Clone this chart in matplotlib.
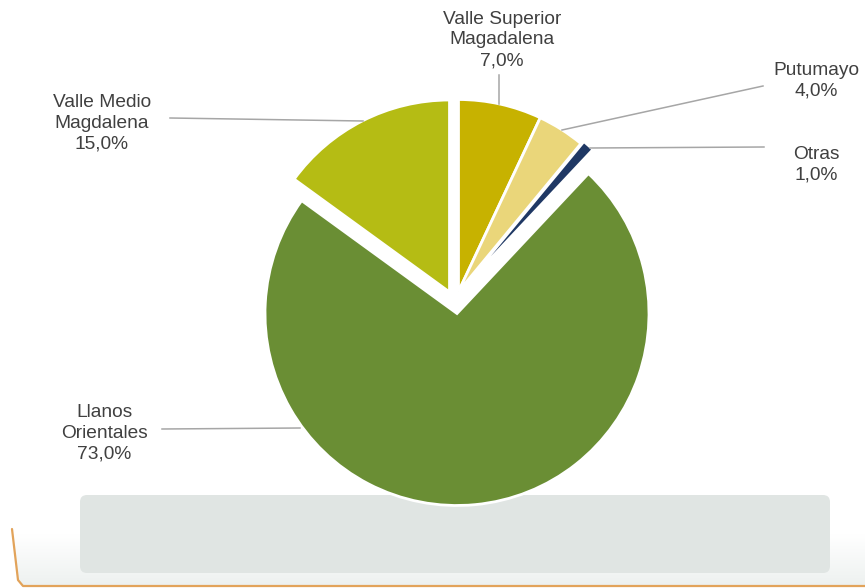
import numpy as np
import matplotlib
matplotlib.use("Agg")
import matplotlib.pyplot as plt
from matplotlib.patches import FancyBboxPatch, Polygon

plt.rcParams['font.family'] = ['Liberation Sans', 'DejaVu Sans']

# Participación por cuenca
categories = ["Valle Superior\nMagadalena", "Putumayo", "Otras",
              "Llanos\nOrientales", "Valle Medio\nMagdalena"]
values = [7.0, 4.0, 1.0, 73.0, 15.0]
colors = ["#C7B200", "#EAD67A", "#1F3864", "#6A8E34", "#B5BC14"]

W, H = 865, 588
fig = plt.figure(figsize=(W / 100, H / 100), dpi=100)
ax = fig.add_axes([0, 0, 1, 1])
ax.set_xlim(0, W)
ax.set_ylim(0, H)
ax.set_aspect('equal')
ax.axis('off')

def py(y):
    return H - y

# bottom frame with soft gradient and orange border
frame = Polygon([(12, py(529)), (18, py(580)), (23, py(586)), (W, py(586)),
                 (W, py(529))], closed=True, facecolor='none', edgecolor='none')
ax.add_patch(frame)
grad = np.linspace(0, 1, 100).reshape(-1, 1)
top_c = np.array([1.0, 1.0, 1.0])
bot_c = np.array([0.93, 0.945, 0.94])
img = top_c + (bot_c - top_c) * np.clip((grad - 0.1) / 0.9, 0, 1)[..., None]
img = np.repeat(img, 2, axis=1)
im = ax.imshow(img, extent=(12, W, py(586), py(529)), origin='upper',
               aspect='auto', zorder=0, interpolation='bilinear')
im.set_clip_path(frame)
ax.plot([12, 18, 23, W], [py(529), py(580), py(586), py(586)],
        color="#E2A35A", lw=1.6, zorder=1, solid_capstyle='round')

# grey panel under the pie
panel = FancyBboxPatch((80, py(573)), 750, 78,
                       boxstyle="round,pad=0,rounding_size=7",
                       facecolor="#E0E5E3", edgecolor='none', zorder=1)
ax.add_patch(panel)

# pie; the large slice drops down and the 15% slice slides left
cx, cy, r = 458.5, py(291.5), 192
wedges, _ = ax.pie(values, colors=colors, startangle=90,
                   counterclock=False, center=(cx, cy), radius=r,
                   wedgeprops=dict(edgecolor='white', linewidth=2.0),
                   frame=True)
slice_shift = [(0, 0), (0, 0), (3, 2), (-1.5, -22), (-9, -0.5)]
for w, (dx, dy) in zip(wedges, slice_shift):
    w.set_center((cx + dx, cy + dy))
    w.set_zorder(3)
ax.set_xlim(0, W)
ax.set_ylim(0, H)
ax.axis('off')

# labels and leader lines
txt_kw = dict(ha='center', va='center', fontsize=13.8, color='#404040',
              linespacing=1.3, zorder=5)
label_pos = [(502, 40), (816, 81), (816, 165), (104, 433), (102, 123)]
for name, val, (lx, ly) in zip(categories, values, label_pos):
    ax.text(lx, py(ly), f"{name}\n{val:.1f}%".replace('.', ','), **txt_kw)

leaders = [((499, 75), (499, 104)),
           ((763, 86), (562, 130)),
           ((764, 147), (590, 148)),
           ((162, 429), (300, 428)),
           ((170, 118), (363, 121))]
for (x0, y0), (x1, y1) in leaders:
    ax.plot([x0, x1], [py(y0), py(y1)], color='#A6A6A6', lw=1.1, zorder=4)

fig.savefig("out.png", dpi=100)
